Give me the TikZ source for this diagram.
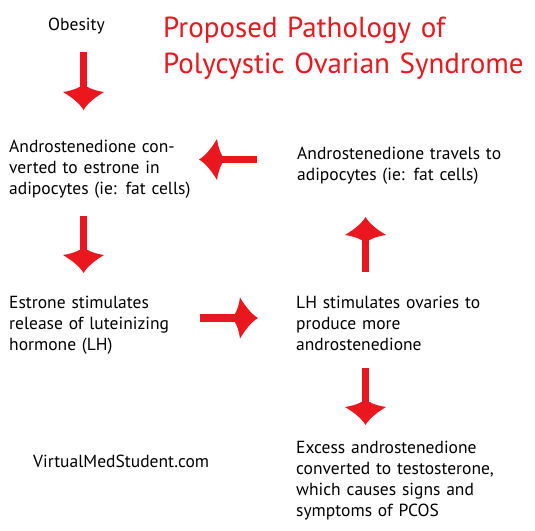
\documentclass[tikz,border=0pt]{standalone}
\usepackage{fontspec}
\setmainfont{PT Sans}
\usetikzlibrary{arrows.meta}
\definecolor{pcred}{RGB}{234,24,30}

\pgfdeclarearrow{
  name = Swept,
  setup code = {
    \pgfarrowssettipend{0pt}
    \pgfarrowssetlineend{-19pt}
    \pgfarrowssetvisualbackend{-23pt}
    \pgfarrowssetbackend{-23pt}
    \pgfarrowshullpoint{0pt}{0pt}
    \pgfarrowsupperhullpoint{-18pt}{20.5pt}
    \pgfarrowsupperhullpoint{-23pt}{4pt}
  },
  drawing code = {
    \pgfpathmoveto{\pgfqpoint{0pt}{0pt}}
    \pgfpathcurveto{\pgfqpoint{-6pt}{3.5pt}}{\pgfqpoint{-12pt}{10.5pt}}{\pgfqpoint{-18pt}{20.5pt}}
    \pgfpathcurveto{\pgfqpoint{-18.8pt}{14pt}}{\pgfqpoint{-21pt}{7.5pt}}{\pgfqpoint{-23pt}{4pt}}
    \pgfpathlineto{\pgfqpoint{-23pt}{-4pt}}
    \pgfpathcurveto{\pgfqpoint{-21pt}{-7.5pt}}{\pgfqpoint{-18.8pt}{-14pt}}{\pgfqpoint{-18pt}{-20.5pt}}
    \pgfpathcurveto{\pgfqpoint{-12pt}{-10.5pt}}{\pgfqpoint{-6pt}{-3.5pt}}{\pgfqpoint{0pt}{0pt}}
    \pgfpathclose
    \pgfusepathqfill
  },
}

\tikzset{
  txt/.style={anchor=base west, inner sep=0pt, text width=260pt, align=left,
    font=\fontsize{17.5}{21}\selectfont, text=black},
  titletxt/.style={anchor=base west, inner sep=0pt, text width=380pt, align=left,
    font=\fontsize{29}{36}\selectfont, text=pcred},
  bigarrow/.style={color=pcred, line width=7.5pt, -{Swept}},
}

\begin{document}
\begin{tikzpicture}[x=1pt, y=-1pt]
\useasboundingbox[fill=white] (0,0) rectangle (535,530);

\node[txt] (obesity) at (48,30) {Obesity};
\node[titletxt] (title) at (163,37) {Proposed Pathology of\\Polycystic Ovarian Syndrome};
\node[txt] (conv) at (9,152) {Androstenedione con-\\verted to estrone in\\adipocytes (ie: fat cells)};
\node[txt] (travel) at (297,159) {Androstenedione travels to\\adipocytes (ie: fat cells)};
\node[txt] (estrone) at (9,308) {Estrone stimulates\\release of luteinizing\\hormone (LH)};
\node[txt] (lh) at (296,308) {LH stimulates ovaries to\\produce more\\androstenedione};
\node[txt] (excess) at (296,453) {Excess androstenedione\\converted to testosterone,\\which causes signs and\\symptoms of PCOS};
\node[txt] (vms) at (33,467) {VirtualMedStudent.com};

\coordinate (a1s) at (83.5,52);   \coordinate (a1e) at (83.5,110);
\coordinate (a2s) at (257,159.5); \coordinate (a2e) at (199,159.5);
\coordinate (a3s) at (83.5,216);  \coordinate (a3e) at (83.5,273);
\coordinate (a4s) at (200,318);   \coordinate (a4e) at (258,318);
\coordinate (a5s) at (365.5,272); \coordinate (a5e) at (365.5,217);
\coordinate (a6s) at (365.5,368); \coordinate (a6e) at (365.5,425);

\draw[bigarrow] (a1s) -- (a1e);
\draw[bigarrow] (a2s) -- (a2e);
\draw[bigarrow] (a3s) -- (a3e);
\draw[bigarrow] (a4s) -- (a4e);
\draw[bigarrow] (a5s) -- (a5e);
\draw[bigarrow] (a6s) -- (a6e);
\end{tikzpicture}
\end{document}
